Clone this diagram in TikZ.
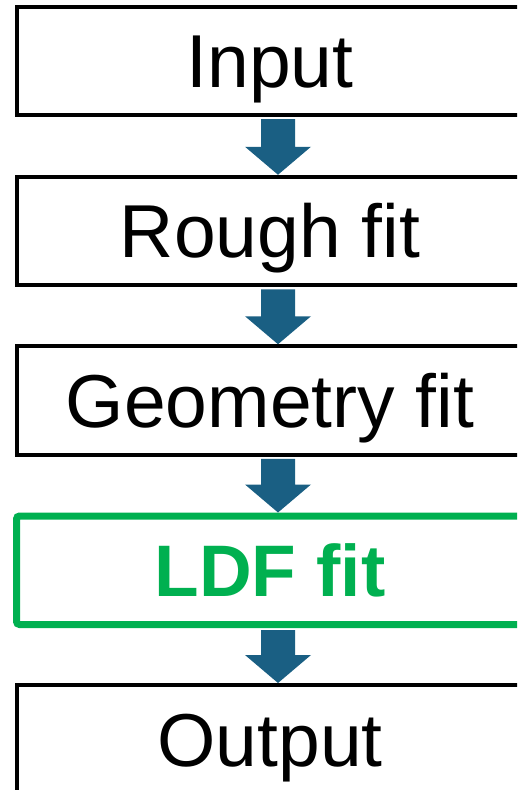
\documentclass[tikz,border=0pt]{standalone}
\usepackage{fontspec}
\setmainfont{Liberation Sans}
\usetikzlibrary{calc}
\definecolor{arrowblue}{HTML}{1A5F83}
\definecolor{ldfgreen}{HTML}{00B050}
\newcommand\blockarrow[2]{%
  \fill[arrowblue] let \p1=([xshift=8pt,yshift=-2pt]#1.south), \p2=([xshift=8pt]#2.north) in
    (\x1-17pt,\y1) -- (\x1+17pt,\y1) -- (\x1+17pt,\y2+28pt) -- (\x1+33pt,\y2+28pt)
    -- (\x2,\y2) -- (\x1-33pt,\y2+28pt) -- (\x1-17pt,\y2+28pt) -- cycle;}
\begin{document}
\begin{tikzpicture}[x=1pt,y=-1pt,
  stepbox/.style={draw=black,line width=4pt,minimum width=507pt,minimum height=108.5pt,
    inner sep=0pt,text height=53.7pt,text depth=0pt,font=\fontsize{75}{80}\selectfont},
  greenbox/.style={stepbox,draw=ldfgreen,line width=7pt,rounded corners=3pt,
    text=ldfgreen,text height=52.3pt,font=\fontsize{73}{80}\selectfont\bfseries}]
\useasboundingbox (0,0) rectangle (517,790);
\clip (0,0) rectangle (517,790);
\node[stepbox] (in) at (270,60.75) {Input};
\node[stepbox] (rough) at (270,231) {Rough fit};
\node[stepbox] (geo) at (270,400.5) {Geometry fit};
\node[greenbox] (ldf) at (270,570.25) {LDF fit};
\node[stepbox] (out) at (270,739.25) {Output};
\blockarrow{in}{rough}
\blockarrow{rough}{geo}
\blockarrow{geo}{ldf}
\blockarrow{ldf}{out}
\end{tikzpicture}
\end{document}
